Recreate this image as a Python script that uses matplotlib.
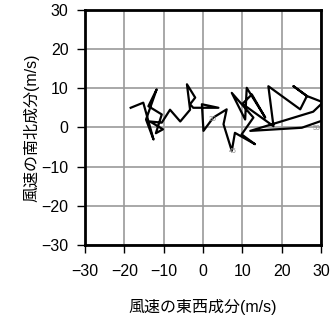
import numpy as np
import matplotlib
matplotlib.use("Agg")
import matplotlib.pyplot as plt

plt.rcParams['font.family'] = ['Liberation Sans', 'Noto Sans CJK JP']

# wind components (m/s) along the hodograph
u = [-18.4, -15.2, -12.6, -14.5, -11.8, -13.9, -10.5, -12.0, -10.2, -13.5,
     -10.5, -8.4, -5.8, -3.3, -4.1, -2.0, -3.3, -2.5, 3.9, -0.3,
     0.1, 2.6, 6.0, 5.2, 7.3, 8.1, 13.2, 9.8, 12.8, 7.3,
     10.7, 11.1, 15.8, 12.4, 10.0, 17.9, 16.6, 24.7, 26.4, 23.0,
     26.4, 30.5, 28.0, 12.0, 25.1, 30.5]
v = [5.0, 6.3, -3.1, 2.0, 9.7, 5.4, 3.3, -1.5, -0.5, 1.5,
     1.2, 4.5, 1.5, 4.5, 11.0, 7.6, 5.9, 5.0, 5.0, 5.9,
     -0.9, 2.5, 4.6, 0.8, -6.0, -1.4, -4.3, -1.8, 2.5, 8.8,
     2.0, 10.1, 2.5, 8.4, 6.0, 0.3, 10.5, 4.6, 8.0, 10.5,
     8.0, 6.4, 4.0, -0.9, -0.1, 1.8]
lbl_text = ['30', '45', '50']
lbl_u = [2.3, 7.6, 28.9]
lbl_v = [2.0, -6.1, -0.3]
ticks = [-30, -20, -10, 0, 10, 20, 30]
tick_labels = [f'{t}'.replace('-', '\u2212') for t in ticks]

fig = plt.figure(figsize=(3.31, 3.18), dpi=100)
ax = fig.add_axes([0.257, 0.230, 0.713, 0.739])

ax.plot(u, v, color='black', lw=1.6, clip_on=True)
for t, x, y in zip(lbl_text, lbl_u, lbl_v):
    ax.text(x, y, t, fontsize=5, color='#888888', ha='center', va='center')

ax.set_xlim(-30, 30)
ax.set_ylim(-30, 30)
ax.set_xticks(ticks, tick_labels)
ax.set_yticks(ticks, tick_labels)
ax.grid(True, color='#9a9a9a', lw=1.2)
ax.set_axisbelow(True)
for s in ax.spines.values():
    s.set_linewidth(2)
ax.tick_params(axis='x', direction='out', length=6, width=1, labelsize=11.5, pad=8)
ax.tick_params(axis='y', direction='out', length=6, width=1, labelsize=11.5, pad=6)
ax.set_xlabel('風速の東西成分(m/s)', fontsize=11.5, labelpad=14)
ax.set_ylabel('風速の南北成分(m/s)', fontsize=11.5, labelpad=1)

fig.savefig('out.png', dpi=100)
plt.close(fig)
